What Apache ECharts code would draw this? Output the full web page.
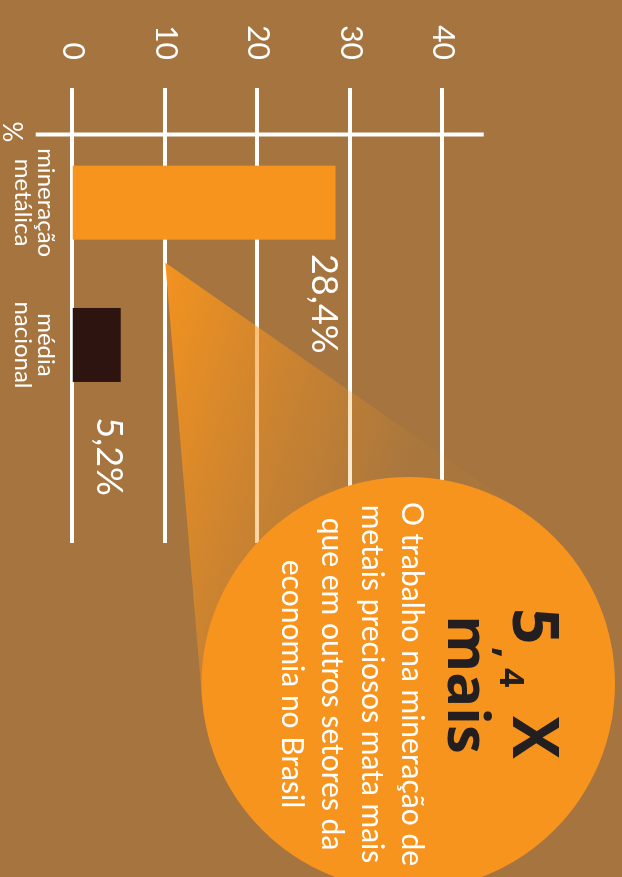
<!DOCTYPE html>
<html>
<head>
<meta charset="utf-8">
<script src="https://cdn.jsdelivr.net/npm/echarts@6/dist/echarts.min.js"></script>
<style>
  html, body { margin: 0; padding: 0; width: 622px; height: 877px; overflow: hidden; background: #A6753F; }
  /* the chart is laid out landscape and turned a quarter clockwise */
  #chart { position: absolute; left: 0; top: 0; width: 877px; height: 622px;
           transform-origin: 0 0; transform: translate(622px, 0) rotate(90deg); }
</style>
</head>
<body>
<div id="chart"></div>
<script>
// data
const categories = ['mineração\nmetálica', 'média\nnacional'];
const values = [28.4, 5.2];
const barColors = ['#F7941E', '#2E1410'];
const valueTicks = [0, 10, 20, 30, 40];
const unitLabel = '%';
const calloutValue = 10;
const headline = ['5', ',', '4', 'X', 'mais'];
const bodyLines = ['O trabalho na mineração de', 'metais preciosos mata mais', 'que em outros setores da', 'economia no Brasil'];

const LIGHT = 'Lato, "Open Sans", "Noto Sans", sans-serif';
const BOLD = '"Open Sans", "Noto Sans", sans-serif';
const WHITE = '#FFFFFF';
const ORANGE = '#F7941E';
const DARK = '#231F20';

const chart = echarts.init(document.getElementById('chart'), null, { renderer: 'canvas' });

const fmt = v => v.toFixed(1).replace('.', ',') + '%';

const option = {
  backgroundColor: '#A6753F',
  animation: false,
  grid: [
    { left: 88, right: 334, top: 179.3, bottom: 72.7 },
    { left: 131.5, width: 284.6, top: 179.3, bottom: 72.7 }
  ],
  xAxis: [
    { gridIndex: 0, type: 'category', data: categories, show: false },
    { gridIndex: 1, type: 'category', data: categories,
      axisLine: { show: false }, axisTick: { show: false },
      axisLabel: { color: WHITE, fontSize: 24, lineHeight: 23, fontFamily: LIGHT, fontWeight: 400, margin: 15 } }
  ],
  yAxis: [
    { gridIndex: 0, type: 'value', min: valueTicks[0], max: valueTicks[valueTicks.length - 1],
      interval: valueTicks[1] - valueTicks[0],
      axisLine: { show: false }, axisTick: { show: false },
      axisLabel: { color: WHITE, fontSize: 30, fontFamily: LIGHT, fontWeight: 400, margin: 28 },
      splitLine: { lineStyle: { color: WHITE, width: 4 } } },
    { gridIndex: 1, type: 'value', min: valueTicks[0], max: valueTicks[valueTicks.length - 1],
      interval: valueTicks[1] - valueTicks[0], show: false }
  ],
  series: [{
    type: 'bar', xAxisIndex: 1, yAxisIndex: 1, barWidth: 74,
    data: values.map((v, i) => ({ value: v, itemStyle: { color: barColors[i] } })),
    label: {
      show: true, position: [188, 12], align: 'right', verticalAlign: 'middle',
      color: WHITE, fontSize: 36, fontFamily: LIGHT, fontWeight: 400,
      formatter: p => fmt(p.value)
    }
  }]
};
chart.setOption(option);

// callout: cone from the 10 line to the circle, circle with text
const y10 = chart.convertToPixel({ yAxisIndex: 0 }, calloutValue);
const bar1Center = chart.convertToPixel({ xAxisIndex: 1 }, categories[0]);
const apex = [bar1Center + 60, y10];
const C = [683.7, 213.7], R = 206.7;
const dx = C[0] - apex[0], dy = C[1] - apex[1];
const d = Math.hypot(dx, dy);
const th = Math.atan2(dy, dx), half = Math.asin(R / d), L = Math.sqrt(d * d - R * R);
const T1 = [apex[0] + L * Math.cos(th - half), apex[1] + L * Math.sin(th - half)];
const T2 = [apex[0] + L * Math.cos(th + half), apex[1] + L * Math.sin(th + half)];

const gradFrom = [apex[0] + 88, apex[1] - 282];
const yAxisTop = chart.convertToPixel({ yAxisIndex: 0 }, valueTicks[valueTicks.length - 1]);
const yAxisBottom = chart.convertToPixel({ yAxisIndex: 0 }, valueTicks[0]);

const darkText = (text, x, y, size, align) => ({
  type: 'text', z: 12,
  style: { text, x, y, align: align || 'left', verticalAlign: 'middle',
           fill: DARK, fontSize: size, fontWeight: 'bold', fontFamily: BOLD }
});

chart.setOption({
  graphic: [
    { type: 'line', shape: { x1: 134.5, y1: yAxisTop - 41, x2: 134.5, y2: yAxisBottom + 37 },
      style: { stroke: WHITE, lineWidth: 4 }, z: 5 },
    { type: 'text', style: { text: unitLabel, x: 132, y: 611, align: 'center', verticalAlign: 'middle',
      fill: WHITE, fontSize: 26, fontFamily: LIGHT, fontWeight: 400 }, z: 5 },
    { type: 'polygon', shape: { points: [apex, T1, C, T2] },
      style: { fill: new echarts.graphic.LinearGradient(gradFrom[0], gradFrom[1], apex[0], apex[1], [
        { offset: 0, color: 'rgba(247,148,30,0.04)' },
        { offset: 0.5, color: 'rgba(247,148,30,0.45)' },
        { offset: 1, color: 'rgba(247,148,30,0.95)' }
      ], true) }, z: 10 },
    { type: 'circle', shape: { cx: C[0], cy: C[1], r: R }, style: { fill: ORANGE }, z: 11 },
    darkText(headline[0], 608, 91, 64),
    darkText(headline[1], 647, 114, 40),
    darkText(headline[2], 668, 112, 34),
    darkText(headline[3], 716, 91, 64),
    darkText(headline[4], 684.5, 157, 58, 'center'),
    { type: 'text', z: 12, style: { text: bodyLines.join('\n'), x: 684, y: 270, align: 'center', verticalAlign: 'middle',
      fill: WHITE, fontSize: 30, lineHeight: 40, fontFamily: LIGHT, fontWeight: 400 } }
  ]
});
</script>
</body>
</html>
